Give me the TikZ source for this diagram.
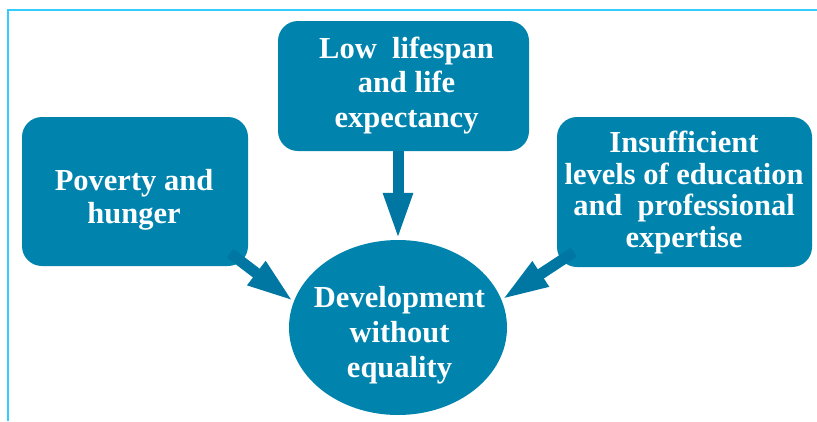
\documentclass[tikz,border=0pt]{standalone}
\usepackage{fontspec}
\setmainfont{Liberation Serif}
\usetikzlibrary{shapes.geometric,arrows.meta}
\definecolor{boxblue}{HTML}{0084AE}
\definecolor{arrowblue}{HTML}{0077A3}
\definecolor{frameblue}{HTML}{33CCFF}
\begin{document}
\begin{tikzpicture}[x=1pt,y=-1pt,
  box/.style={draw=none,fill=boxblue,rounded corners=20pt,inner sep=0pt},
  oval/.style={ellipse,draw=none,fill=boxblue,inner sep=0pt,minimum width=218pt,minimum height=175pt},
  txt/.style={text=white,align=center,font=\bfseries\fontsize{30.5}{33}\selectfont,inner sep=0pt},
  arr/.style={draw=arrowblue,line width=11pt,-{Triangle[length=47pt,width=27pt]}}
]
\useasboundingbox (0,0) rectangle (817,421);
\draw[frameblue,line width=1.5pt] (8,421) -- (8,10) -- (817,10);

\node[box,minimum width=226pt,minimum height=149pt] (left) at (135,191.5) {};
\node[box,minimum width=251pt,minimum height=130pt] (top) at (403.5,86) {};
\node[box,minimum width=255pt,minimum height=150pt] (right) at (684.5,192) {};
\node[oval] (ell) at (398,327.5) {};

\draw[arr] ([xshift=-18pt,yshift=13pt]left.south east) -- (ell.166);
\draw[arr] ([xshift=-5.5pt]top.south) -- (ell.north);
\draw[arr] ([xshift=17pt,yshift=15pt]right.south west) -- (ell.15);

\node[txt] (lefttext) at (134,200) {Poverty and\\hunger};
\node[txt,font=\bfseries\fontsize{30.5}{34.5}\selectfont] (toptext) at (406.5,85.5) {Low\ \ lifespan\\and life\\expectancy};
\node[txt,font=\bfseries\fontsize{30.5}{31.7}\selectfont] (righttext) at (684,192.5) {Insufficient\\levels of education\\and\ \ professional\\expertise};
\node[txt,font=\bfseries\fontsize{30.5}{35}\selectfont] (elltext) at (399.5,335) {Development\\without\\equality};
\end{tikzpicture}
\end{document}
